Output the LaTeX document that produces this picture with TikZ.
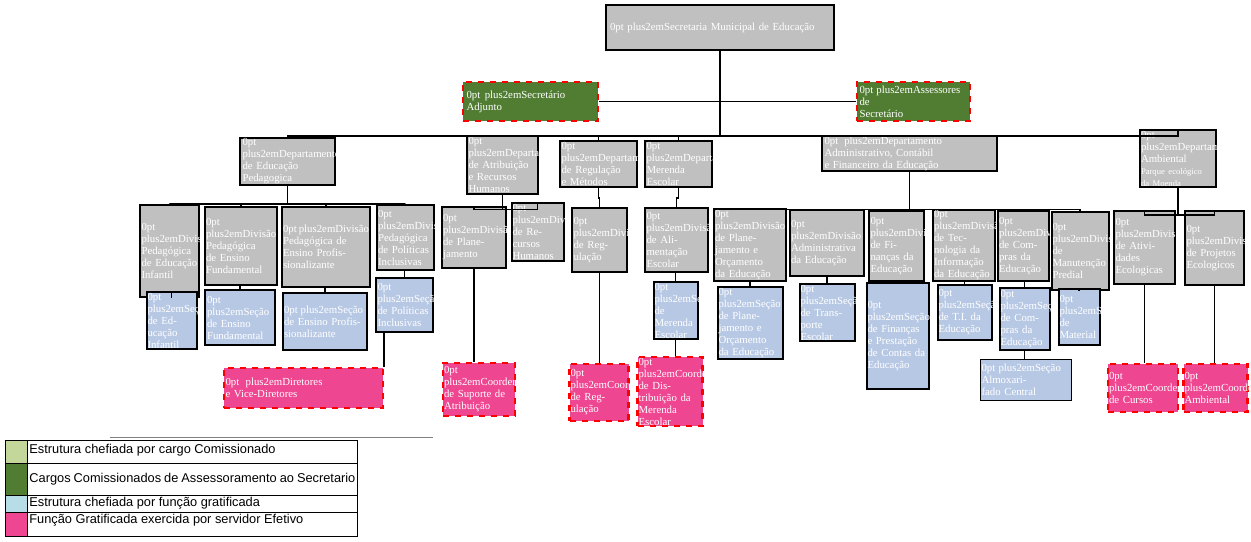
\documentclass[tikz,border=0pt]{standalone}
\usepackage{fontspec}
\setmainfont{Liberation Serif}
\setsansfont{Liberation Sans}
\definecolor{cinza}{RGB}{192,192,192}
\definecolor{verdeesc}{RGB}{80,125,50}
\definecolor{verdecla}{RGB}{196,215,155}
\definecolor{azul}{RGB}{183,200,228}
\definecolor{azulleg}{RGB}{183,222,232}
\definecolor{rosa}{RGB}{238,70,145}
\tikzset{
  caixa/.style={draw, align=center, inner sep=0.5pt, text=white, font=\fontsize{5.4}{6}\selectfont\hyphenpenalty=10000\exhyphenpenalty=10000},
  cinzabox/.style={caixa, fill=cinza, line width=1pt},
  verdebox/.style={caixa, fill=verdeesc, draw=red, dashed, line width=1.2pt, text=white},
  azulbox/.style={caixa, fill=azul, line width=1pt, text=white},
  rosabox/.style={caixa, fill=rosa, draw=red, dashed, line width=1.2pt},
  liga/.style={line width=0.8pt}
}
\begin{document}
\begin{tikzpicture}[x=0.5pt,y=-0.5pt]
\useasboundingbox (0,0) rectangle (1251,541);
% topo
\node[cinzabox, minimum width=114pt, minimum height=22.5pt, text width=110pt] (sec) at (720,27.5) {Secretaria Municipal de Educação};
\node[verdebox, minimum width=67.5pt, minimum height=19.5pt, text width=64pt] (adj) at (530.5,101.5) {Secretário Adjunto};
\node[verdebox, minimum width=56.5pt, minimum height=19.5pt, text width=54pt] (ass) at (913.5,101.5) {Assessores de\\Secretário};
% departamentos
\node[cinzabox, minimum width=47.5pt, minimum height=23.5pt, text width=45pt] (dEP) at (287.5,161.5) {Departamento de Educação Pedagogica};
\node[cinzabox, minimum width=35.5pt, minimum height=25pt, text width=34pt] (dAR) at (502.5,165) {Departamento de Atribuição e Recursos Humanos};
\node[cinzabox, minimum width=38.5pt, minimum height=23pt, text width=37pt] (dRM) at (598.5,164) {Departamento de Regulação e Métodos};
\node[cinzabox, minimum width=33.5pt, minimum height=23pt, text width=32pt] (dME) at (678.5,164) {Departamento Merenda Escolar};
\node[cinzabox, minimum width=87.5pt, minimum height=16.5pt, text width=85pt] (dAC) at (909.5,153.5) {Departamento Administrativo, Contábil e Financeiro da Educação};
\node[cinzabox, minimum width=38pt, minimum height=21.5pt, text width=37pt] (dAM) at (1178,158.5) {Departamento Ambiental\\{\fontsize{4.3}{4.8}\selectfont Parque ecológico da Moenda}};
% divisoes
\node[cinzabox, minimum width=29.5pt, minimum height=46pt, text width=28pt] (vEI) at (169.5,251) {Divisão Pedagógica de Educação Infantil};
\node[cinzabox, minimum width=36pt, minimum height=39pt, text width=35pt] (vEF) at (241,246) {Divisão Pedagógica de Ensino Fundamental};
\node[cinzabox, minimum width=44pt, minimum height=40pt, text width=43pt] (vEP) at (326,247) {Divisão Pedagógica de Ensino Profissionalizante};
\node[cinzabox, minimum width=28.5pt, minimum height=32.5pt, text width=27.5pt] (vPI) at (405.5,237.5) {Divisão Pedagógica de Políticas Inclusivas};
\node[cinzabox, minimum width=32pt, minimum height=30.5pt, text width=31pt] (vPL) at (474,237.5) {Divisão de Planejamento};
\node[cinzabox, minimum width=25.5pt, minimum height=24pt, text width=25pt] (vRH) at (537.5,232) {Divisão de Recursos Humanos};
\node[cinzabox, minimum width=27.5pt, minimum height=32pt, text width=26pt] (vRG) at (599.5,240) {Divisão de Regulação};
\node[cinzabox, minimum width=31.5pt, minimum height=32pt, text width=30pt] (vAE) at (676.5,240) {Divisão de Alimentação Escolar};
\node[cinzabox, minimum width=36pt, minimum height=35pt, text width=35pt] (vPO) at (750,245) {Divisão de Planejamento e Orçamento da Educação};
\node[cinzabox, minimum width=37pt, minimum height=33pt, text width=36pt] (vAD) at (827,243) {Divisão Administrativa da Educação};
\node[cinzabox, minimum width=27.5pt, minimum height=35pt, text width=26pt] (vFI) at (896.5,246) {Divisão de Finanças da Educação};
\node[cinzabox, minimum width=31pt, minimum height=34.5pt, text width=30pt] (vTI) at (964,245.5) {Divisão de Tecnologia da Informação da Educação};
\node[cinzabox, minimum width=25.5pt, minimum height=35pt, text width=24.5pt] (vCP) at (1023.5,246) {Divisão de Compras da Educação};
\node[cinzabox, minimum width=28pt, minimum height=39pt, text width=27.5pt] (vMP) at (1080,251) {Divisão de Manutenção Predial};
\node[cinzabox, minimum width=30.5pt, minimum height=36.5pt, text width=29pt] (vAT) at (1144.5,247.5) {Divisão de Atividades Ecologicas};
\node[cinzabox, minimum width=29.5pt, minimum height=37pt, text width=28pt] (vPE) at (1214.5,248) {Divisão de Projetos Ecologicos};
% secoes
\node[azulbox, minimum width=24.5pt, minimum height=27.5pt, text width=24pt] (sEI) at (171.5,320.5) {Seção de Educação Infantil};
\node[azulbox, minimum width=35pt, minimum height=27.5pt, text width=33pt] (sEF) at (240,317.5) {Seção de Ensino Fundamental};
\node[azulbox, minimum width=42pt, minimum height=28.5pt, text width=41pt] (sEP) at (325,321.5) {Seção de Ensino Profissionalizante};
\node[azulbox, minimum width=28.5pt, minimum height=27pt, text width=27pt] (sPI) at (404.5,305) {Seção de Políticas Inclusivas};
\node[azulbox, minimum width=21.5pt, minimum height=27.5pt, text width=21pt] (sME) at (675.5,310.5) {Seção de Merenda Escolar};
\node[azulbox, minimum width=32pt, minimum height=33pt, text width=31.5pt] (sPO) at (750,323) {Seção de Planejamento e Orçamento da Educação};
\node[azulbox, minimum width=27pt, minimum height=27.5pt, text width=26.5pt] (sTE) at (827,312.5) {Seção de Transporte Escolar};
\node[azulbox, minimum width=30.5pt, minimum height=53pt, text width=30pt] (sFI) at (897.5,336) {Seção de Finanças e Prestação de Contas da Educação};
\node[azulbox, minimum width=26.5pt, minimum height=27.5pt, text width=26pt] (sTI) at (964.5,312.5) {Seção de T.I. da Educação};
\node[azulbox, minimum width=24.5pt, minimum height=31pt, text width=24pt] (sCP) at (1024.5,319) {Seção de Compras da Educação};
\node[azulbox, minimum width=20pt, minimum height=28pt, text width=19.5pt] (sMT) at (1079,317) {Seção de Material};
\node[azulbox, minimum width=45.5pt, minimum height=20.5pt, text width=44pt, line width=0.5pt] (sAC) at (1025.5,379.5) {Seção Almoxarifado Central};
% funcoes gratificadas
\node[rosabox, minimum width=79.5pt, minimum height=20pt, text width=78pt] (pDV) at (303.5,388) {Diretores e Vice-Diretores};
\node[rosabox, minimum width=36pt, minimum height=26.5pt, text width=35pt] (pCS) at (479,389.5) {Coordenador de Suporte de Atribuição};
\node[rosabox, minimum width=29pt, minimum height=28.5pt, text width=28.5pt] (pCR) at (599,392.5) {Coordenador de Regulação};
\node[rosabox, minimum width=32pt, minimum height=27.5pt, text width=31.5pt] (pCD) at (670,391.5) {Coordenador de Distribuição da Merenda Escolar};
\node[rosabox, minimum width=35pt, minimum height=24pt, text width=34pt] (pCC) at (1143,388) {Coordenador de Cursos};
\node[rosabox, minimum width=31.5pt, minimum height=24pt, text width=31pt] (pCA) at (1215.5,388) {Coordenador Ambiental};
% ligacoes
\draw[liga] (adj.east) -- (ass.west);
\draw[liga] (sec.south) -- ++(0,85) coordinate (bus);
\foreach \d in {dEP,dAR,dRM,dME,dAC,dAM}
  \draw[liga] (bus) -| (\d.north);
\foreach \v in {vEI,vEF,vEP,vPI}
  \draw[liga] (dEP.south) -- ++(0,18) -| (\v.north);
\foreach \v in {vPL,vRH}
  \draw[liga] (dAR.south) -- ++(0,15) -| (\v.north);
\draw[liga] (dRM.south) -- ++(0,10) -| (vRG.north);
\draw[liga] (dME.south) -- ++(0,10) -| (vAE.north);
\foreach \v in {vPO,vAD,vFI,vTI,vCP,vMP}
  \draw[liga] (dAC.south) -- ++(0,37) -| (\v.north);
\foreach \v in {vAT,vPE}
  \draw[liga] (dAM.south) -- ++(0,27) -| (\v.north);
\foreach \v/\s in {vEI/sEI,vEF/sEF,vEP/sEP,vPI/sPI,vAE/sME,vPO/sPO,vAD/sTE,vFI/sFI,vTI/sTI,vCP/sCP,vMP/sMT}
  \draw[liga] (\v.south -| \s.north) -- (\s.north);
\draw[liga] (sCP.south) -- (sCP.south |- sAC.north);
\draw[liga] (pDV.north east |- sPI.south) -- (pDV.north east);
\draw[liga] (vPL.south) -- (vPL.south |- pCS.north);
\draw[liga] (vRG.south) -- (vRG.south |- pCR.north);
\draw[liga] (sME.south) -- (sME.south |- pCD.north);
\draw[liga] (vAT.south) -- (vAT.south |- pCC.north);
\draw[liga] (vPE.south) -- (vPE.south |- pCA.north);
% legenda
\draw[gray] (110,437) -- (433,437);
\fill[verdecla] (5,440) rectangle (27,463);
\fill[verdeesc] (5,463) rectangle (27,495);
\fill[azulleg] (5,495) rectangle (27,512);
\fill[rosa] (5,512) rectangle (27,536);
\draw[line width=0.5pt] (5,440) rectangle (357,536);
\foreach \y in {463,495,512} \draw[line width=0.5pt] (5,\y) -- (357,\y);
\draw[line width=0.5pt] (27,440) -- (27,536);
\begin{scope}[every node/.style={anchor=west, font=\sffamily\fontsize{6.4}{7}\selectfont, inner sep=0pt}]
\node (l1) at (29,450) {Estrutura chefiada por cargo Comissionado};
\node[text width=163pt, align=justify] (l2) at (29,479) {Cargos Comissionados de Assessoramento ao Secretario};
\node (l3) at (29,503) {Estrutura chefiada por função gratificada};
\node (l4) at (29,520) {Função Gratificada exercida por servidor Efetivo};
\end{scope}
\end{tikzpicture}
\end{document}
